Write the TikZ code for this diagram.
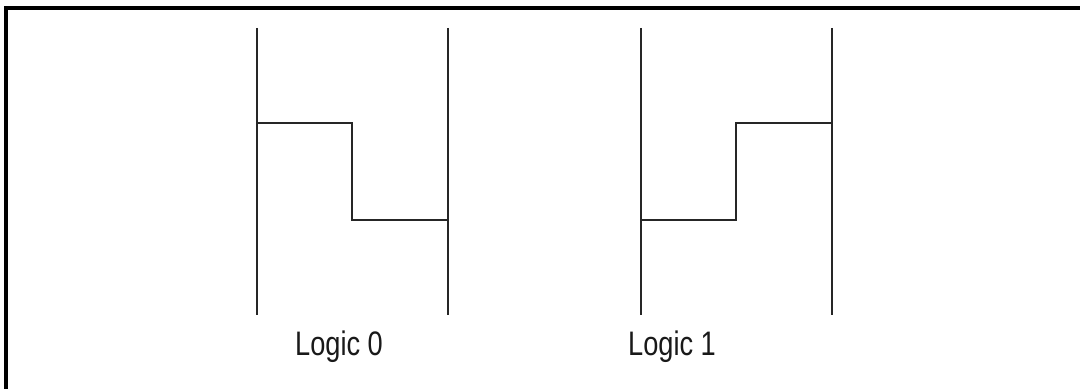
\documentclass[tikz,border=0pt]{standalone}
\usepackage{fontspec}
\setmainfont{Liberation Sans}
\newfontfamily\capfont[FakeStretch=0.8]{Liberation Sans}
\usetikzlibrary{positioning}

\begin{document}
\begin{tikzpicture}[x=0.5pt,y=-0.5pt,line join=miter]
	\tikzset{rail/.style={line width=1.1pt,black!85}}
	\tikzset{level/.style={line width=1.2pt,black!85}}
	\tikzset{caption/.style={font=\capfont\fontsize{17}{20}\selectfont,text=black!90,inner sep=0pt}}
	\useasboundingbox (0,0) rectangle (1080,389);
	\clip (0,0) rectangle (1080,389);
	% frame
	\draw[line width=1.6pt] (6,8) rectangle (1090,400);
	% logic 0
	\coordinate (A1) at (257,28);  \coordinate (A2) at (257,315);
	\coordinate (B1) at (448,28);  \coordinate (B2) at (448,315);
	\coordinate (P) at (257,123);  \coordinate (Q) at (448,220);
	\draw[rail] (A1) -- (A2);
	\draw[rail] (B1) -- (B2);
	\draw[level] (P) -| (352,220) -- (Q);
	\node[caption] (L0) at (339,347) {Logic 0};
	% logic 1
	\coordinate (C1) at (641,28);  \coordinate (C2) at (641,315);
	\coordinate (D1) at (832,28);  \coordinate (D2) at (832,315);
	\coordinate (R) at (641,220);  \coordinate (S) at (832,123);
	\draw[rail] (C1) -- (C2);
	\draw[rail] (D1) -- (D2);
	\draw[level] (R) -| (736,123) -- (S);
	\node[caption] (L1) at (672,347) {Logic 1};
\end{tikzpicture}
\end{document}
